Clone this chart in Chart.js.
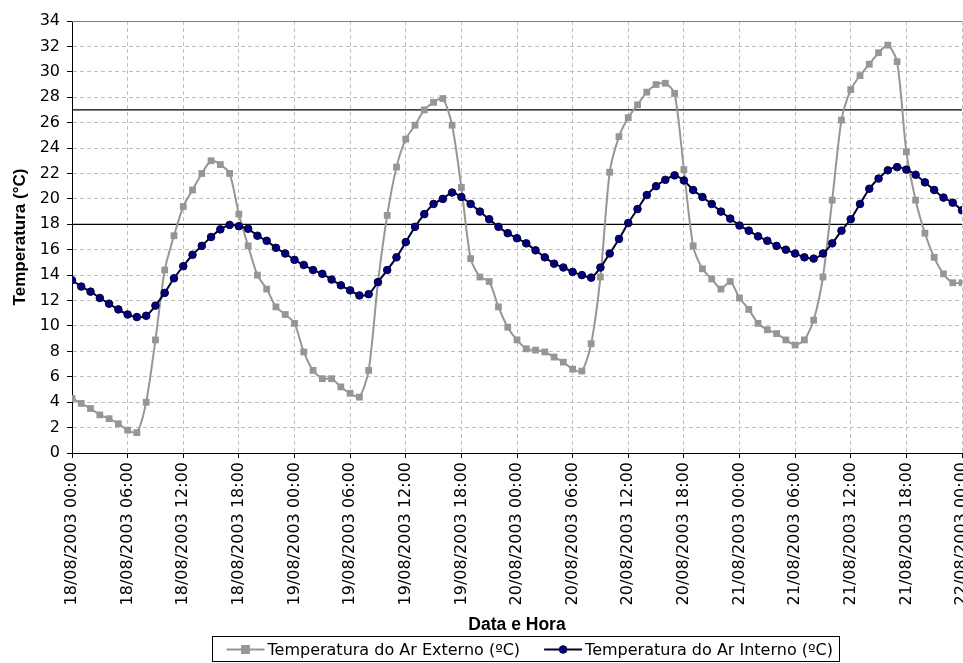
<!DOCTYPE html>
<html lang="pt">
<head>
<meta charset="utf-8">
<title>Temperatura do ar</title>
<script src="https://cdn.jsdelivr.net/npm/chart.js@4/dist/chart.umd.min.js"></script>
<style>
  html, body { margin: 0; padding: 0; background: #fff; overflow: hidden; }
  #wrap { position: relative; width: 963px; height: 663px; }
</style>
</head>
<body>
<div id="wrap"><canvas id="chart"></canvas></div>
<script>
"use strict";

// ---------- dados (leitura horária, 18/08/2003 00:00 a 22/08/2003 00:00) ----------

const xTickLabels = [
  "18/08/2003 00:00", "18/08/2003 06:00", "18/08/2003 12:00", "18/08/2003 18:00",
  "19/08/2003 00:00", "19/08/2003 06:00", "19/08/2003 12:00", "19/08/2003 18:00",
  "20/08/2003 00:00", "20/08/2003 06:00", "20/08/2003 12:00", "20/08/2003 18:00",
  "21/08/2003 00:00", "21/08/2003 06:00", "21/08/2003 12:00", "21/08/2003 18:00",
  "22/08/2003 00:00",
];

const arExterno = [
  4.3, 3.9, 3.5, 3.0, 2.7, 2.3, 1.8, 1.6, 4.0, 8.9, 14.4, 17.1,
  19.4, 20.7, 22.0, 23.0, 22.7, 22.0, 18.8, 16.3, 14.0, 12.9, 11.5, 10.9,
  10.2, 7.95, 6.5, 5.85, 5.85, 5.2, 4.7, 4.4, 6.5, 13.4, 18.7, 22.5,
  24.7, 25.8, 27.0, 27.6, 27.9, 25.8, 20.9, 15.3, 13.85, 13.5, 11.5, 9.9,
  8.9, 8.2, 8.1, 7.95, 7.55, 7.15, 6.6, 6.45, 8.6, 13.85, 22.1, 24.9,
  26.4, 27.4, 28.4, 29.0, 29.1, 28.3, 22.3, 16.3, 14.5, 13.7, 12.9, 13.5,
  12.2, 11.3, 10.2, 9.7, 9.4, 8.9, 8.5, 8.9, 10.45, 13.85, 19.9, 26.2,
  28.6, 29.7, 30.6, 31.5, 32.1, 30.8, 23.7, 19.9, 17.3, 15.4, 14.1, 13.4,
  13.4,
];

const arInterno = [
  13.6, 13.1, 12.7, 12.2, 11.75, 11.3, 10.9, 10.7, 10.8, 11.6, 12.6, 13.75,
  14.7, 15.6, 16.3, 17.0, 17.6, 17.95, 17.85, 17.65, 17.1, 16.7, 16.15, 15.7,
  15.2, 14.8, 14.4, 14.1, 13.65, 13.2, 12.8, 12.4, 12.5, 13.45, 14.4, 15.4,
  16.6, 17.8, 18.8, 19.6, 20.0, 20.5, 20.15, 19.6, 19.0, 18.4, 17.8, 17.3,
  16.9, 16.5, 15.95, 15.4, 14.9, 14.6, 14.25, 14.0, 13.8, 14.6, 15.7, 16.85,
  18.1, 19.2, 20.3, 21.0, 21.5, 21.85, 21.45, 20.7, 20.15, 19.6, 19.0, 18.45,
  17.9, 17.5, 17.05, 16.7, 16.3, 16.0, 15.7, 15.4, 15.3, 15.7, 16.5, 17.5,
  18.4, 19.6, 20.8, 21.6, 22.25, 22.5, 22.3, 21.9, 21.3, 20.7, 20.1, 19.7,
  19.1,
];

const limiteSuperior = 27;
const limiteInferior = 18;

// ---------- helpers ----------

const HOURS_PER_TICK = 6;
const lastHour = arExterno.length - 1;

const asPoints = (values) => values.map((y, hour) => ({ x: hour, y }));
const flatLine = (value) => [{ x: 0, y: value }, { x: lastHour, y: value }];

// ---------- moldura superior + legenda com caixa ----------

const plotFrame = {
  id: "plotFrame",
  beforeDatasetsDraw(chart) {
    const { ctx, chartArea: a } = chart;
    ctx.save();
    ctx.strokeStyle = "#7f7f7f";
    ctx.lineWidth = 1;
    ctx.beginPath();
    ctx.moveTo(a.left, Math.round(a.top) + 0.5);
    ctx.lineTo(a.right, Math.round(a.top) + 0.5);
    ctx.stroke();
    ctx.restore();
  },
};

const LEGEND_LEFT = 212.5;
const LEGEND_TOP = 636.5;
const LEGEND_H = 25;

function legendMarker(ctx, ds, x, y) {
  ctx.fillStyle = ds.pointBackgroundColor;
  ctx.strokeStyle = ds.pointBorderColor;
  ctx.lineWidth = ds.pointBorderWidth || 0;
  ctx.beginPath();
  if (ds.pointStyle === "rect") {
    const s = ds.pointRadius * Math.SQRT1_2;
    ctx.rect(x - s, y - s, 2 * s, 2 * s);
  } else {
    ctx.arc(x, y, ds.pointRadius, 0, Math.PI * 2);
  }
  ctx.fill();
  if (ctx.lineWidth) ctx.stroke();
}

const boxLegend = {
  id: "boxLegend",
  afterDraw(chart) {
    const ctx = chart.ctx;
    const items = chart.data.datasets.filter((d) => d.inLegend);
    const mid = LEGEND_TOP + LEGEND_H / 2 + 0.5;
    ctx.save();
    ctx.font = '16px "DejaVu Sans"';
    ctx.textBaseline = "middle";
    let x = LEGEND_LEFT + 14;
    for (const ds of items) {
      ctx.strokeStyle = ds.borderColor;
      ctx.lineWidth = 2;
      ctx.beginPath();
      ctx.moveTo(x, mid);
      ctx.lineTo(x + 38, mid);
      ctx.stroke();
      legendMarker(ctx, ds, x + 19, mid);
      ctx.fillStyle = "#000";
      ctx.fillText(ds.label, x + 41, mid + 1);
      x += 41 + ctx.measureText(ds.label).width + 24;
    }
    const right = x - 24 + 7;
    ctx.strokeStyle = "#000";
    ctx.lineWidth = 1;
    ctx.strokeRect(LEGEND_LEFT, LEGEND_TOP, Math.round(right - LEGEND_LEFT), LEGEND_H);
    ctx.restore();
  },
};

// ---------- gráfico ----------

const tickFont = { family: "DejaVu Sans", size: 16 };
const gridDash = [4, 3];

new Chart(document.getElementById("chart"), {
  type: "line",
  data: {
    datasets: [
      {
        label: "Temperatura do Ar Externo (ºC)",
        inLegend: true,
        data: asPoints(arExterno),
        order: 2,
        borderColor: "#969696",
        backgroundColor: "#969696",
        borderWidth: 2,
        tension: 0.25,
        pointStyle: "rect",
        pointRadius: 4.8,
        pointBackgroundColor: "#969696",
        pointBorderColor: "#969696",
        pointBorderWidth: 0,
      },
      {
        label: "Temperatura do Ar Interno (ºC)",
        inLegend: true,
        data: asPoints(arInterno),
        order: 1,
        borderColor: "#000033",
        backgroundColor: "#000080",
        borderWidth: 2,
        tension: 0.25,
        pointStyle: "circle",
        pointRadius: 3.8,
        pointBackgroundColor: "#000080",
        pointBorderColor: "#000033",
        pointBorderWidth: 1,
      },
      {
        label: "Limite superior",
        data: flatLine(limiteSuperior),
        order: 3,
        borderColor: "#000",
        borderWidth: 1.3,
        pointRadius: 0,
      },
      {
        label: "Limite inferior",
        data: flatLine(limiteInferior),
        order: 3,
        borderColor: "#000",
        borderWidth: 1.3,
        pointRadius: 0,
      },
    ],
  },
  options: {
    responsive: true,
    maintainAspectRatio: false,
    animation: false,
    events: [],
    layout: { autoPadding: false, padding: { top: 21, right: 1, bottom: 27, left: 0 } },
    scales: {
      x: {
        type: "linear",
        min: 0,
        max: lastHour,
        afterFit(s) {
          s.height = 183;
          s.paddingLeft = 0;
          s.paddingRight = 0;
        },
        ticks: {
          stepSize: HOURS_PER_TICK,
          autoSkip: false,
          minRotation: 90,
          maxRotation: 90,
          padding: 4,
          color: "#000",
          font: tickFont,
          callback: (v) => xTickLabels[v / HOURS_PER_TICK],
        },
        grid: { color: "#c0c0c0", lineWidth: 1, tickLength: 5, tickColor: "#000", tickWidth: 1 },
        border: { color: "#000", width: 1, dash: gridDash },
        title: {
          display: true,
          text: "Data e Hora",
          color: "#000",
          font: { family: "Liberation Sans", size: 17.5, weight: "bold" },
          padding: { top: 0, bottom: 0 },
        },
      },
      y: {
        min: 0,
        max: 34,
        afterFit(s) { s.width = 72; },
        ticks: { stepSize: 2, padding: 7, color: "#000", font: tickFont },
        grid: { color: "#c0c0c0", lineWidth: 1, tickLength: 5, tickColor: "#000", tickWidth: 1 },
        border: { color: "#000", width: 1, dash: gridDash },
        title: {
          display: true,
          text: "Temperatura (°C)",
          color: "#000",
          font: { family: "Liberation Sans", size: 17, weight: "bold" },
          padding: { top: 10, bottom: 0 },
        },
      },
    },
    plugins: {
      legend: { display: false },
      tooltip: { enabled: false },
    },
  },
  plugins: [plotFrame, boxLegend],
});
</script>
</body>
</html>
